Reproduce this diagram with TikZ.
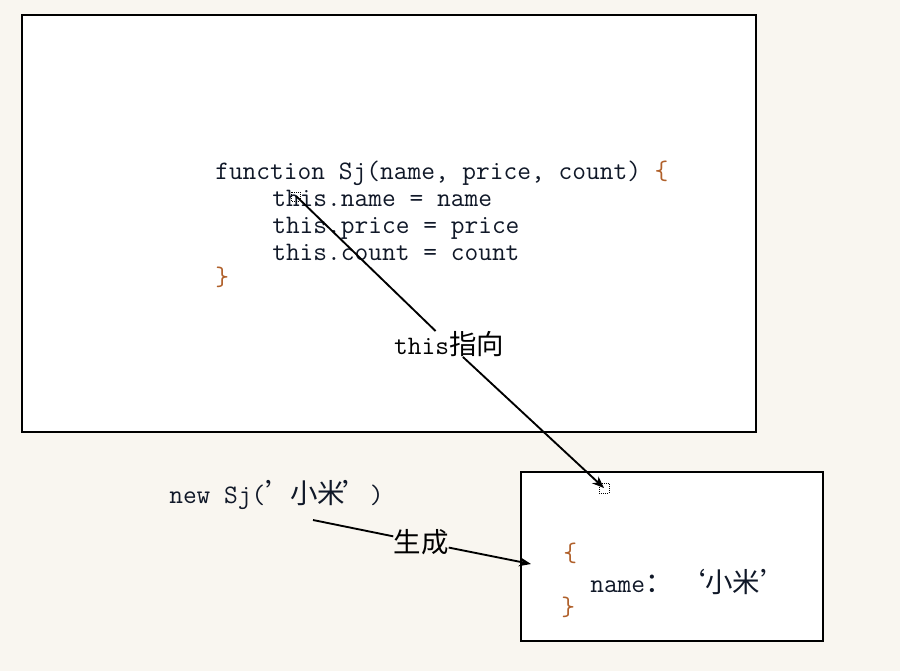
\documentclass[tikz,border=0pt]{standalone}
\usepackage{fontspec}
\newfontfamily\cjk[Scale=1.03]{Noto Sans CJK SC}
\usetikzlibrary{arrows.meta}
\definecolor{bgc}{HTML}{F9F6F0}
\definecolor{codec}{HTML}{101828}
\definecolor{bracec}{HTML}{B0602A}
\tikzset{
  codetext/.style={anchor=base west, inner sep=0pt, font=\ttfamily\fontsize{20pt}{22pt}\selectfont, text=codec},
  lbl/.style={inner sep=0pt, font=\ttfamily\fontsize{20pt}{22pt}\selectfont, text=black},
  frame/.style={draw=black, line width=1.6pt, fill=white},
  conn/.style={draw=black, line width=1.4pt},
  arr/.style={conn, -{Stealth[length=9pt,width=7pt]}},
  selmark/.style={densely dotted, line width=0.5pt}
}
\begin{document}
\begin{tikzpicture}[x=0.75pt,y=-0.75pt]
\useasboundingbox[fill=bgc] (0,0) rectangle (900,671);
\path[frame] (22,15) rectangle (756,432);
\path[frame] (521,472) rectangle (823,641);

\node[codetext] (l1) at (215,179) {function Sj(name, price, count) \textcolor{bracec}{\{}};
\node[codetext] (l2) at (272,206) {this.name = name};
\node[codetext] (l3) at (272,233) {this.price = price};
\node[codetext] (l4) at (272,260) {this.count = count};
\node[codetext,text=bracec] (l5) at (215,285) {\}};

\node[lbl] (thislbl) at (449,344) {this{\cjk 指向}};
\coordinate (ts) at (296,196);
\coordinate (te) at (604,488);
\draw[selmark] (291,192) rectangle (300,201);
\draw[selmark] (599,483) rectangle (609,493);
\draw[conn] (ts) -- (thislbl);
\draw[arr] (thislbl) -- (te);

\node[codetext] (newsj) at (169,503) {new Sj({\cjk ’\kern-2pt 小米\kern-2pt ’})};
\node[lbl] (gen) at (421,542) {\cjk 生成};
\coordinate (gs) at (313,520);
\coordinate (ge) at (531,564);
\draw[conn] (gs) -- (gen);
\draw[arr] (gen) -- (ge);

\node[codetext,text=bracec] (b1) at (563,561) {\{};
\node[codetext] (nm) at (590,592) {name{\cjk ：\kern4pt‘小米’}};
\node[codetext,text=bracec] (b2) at (561,615) {\}};
\end{tikzpicture}
\end{document}
